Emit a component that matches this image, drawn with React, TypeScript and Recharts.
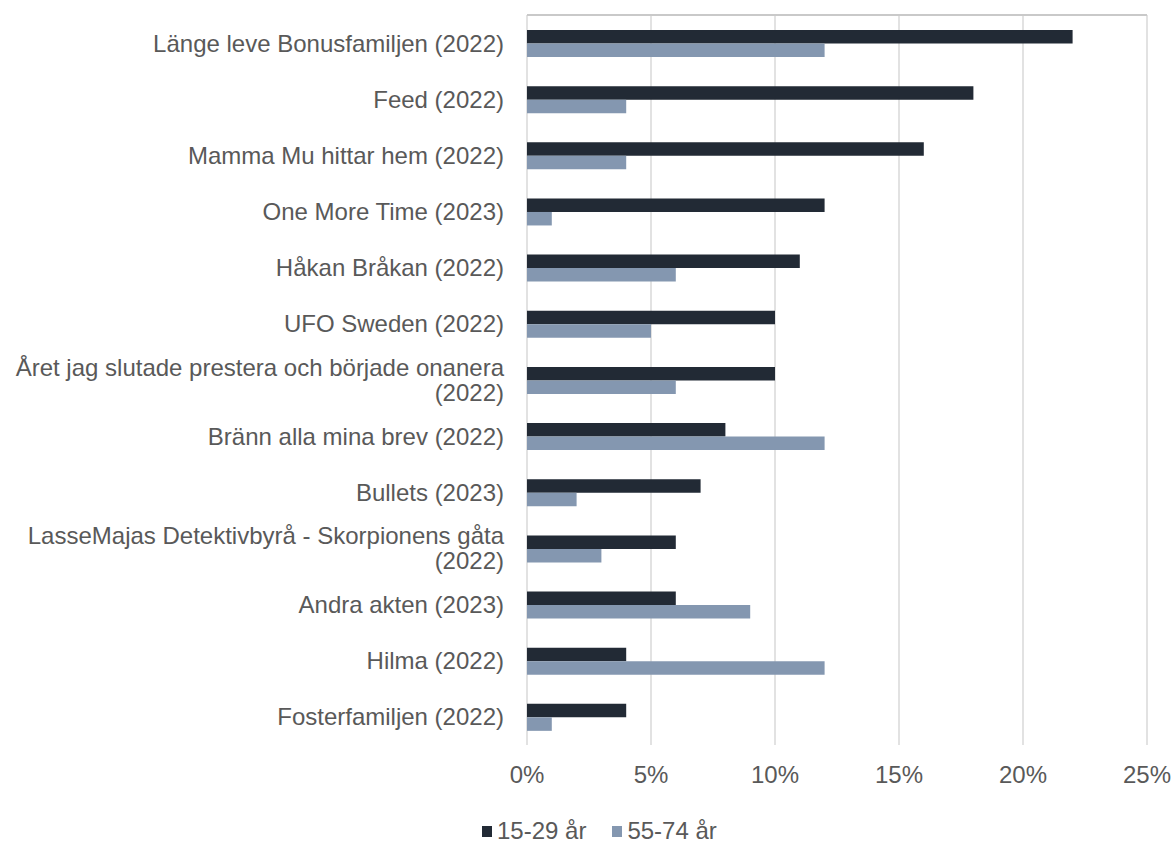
import React from "react";
import { BarChart, Bar, XAxis, YAxis, CartesianGrid, Legend } from "recharts";

const titles = [
  "Länge leve Bonusfamiljen (2022)",
  "Feed (2022)",
  "Mamma Mu hittar hem (2022)",
  "One More Time (2023)",
  "Håkan Bråkan (2022)",
  "UFO Sweden (2022)",
  "Året jag slutade prestera och började onanera (2022)",
  "Bränn alla mina brev (2022)",
  "Bullets (2023)",
  "LasseMajas Detektivbyrå - Skorpionens gåta (2022)",
  "Andra akten (2023)",
  "Hilma (2022)",
  "Fosterfamiljen (2022)",
];
const young = [22, 18, 16, 12, 11, 10, 10, 8, 7, 6, 6, 4, 4];
const old = [12, 4, 4, 1, 6, 5, 6, 12, 2, 3, 9, 12, 1];
const xTicks = [0, 5, 10, 15, 20, 25];

const seriesYoung = "15-29 år";
const seriesOld = "55-74 år";

const data = titles.map((name, i) => ({ name, [seriesYoung]: young[i], [seriesOld]: old[i] }));

const FONT = '"Liberation Sans", Arial, sans-serif';
const TEXT = "#595959";
const FS = 24;

const CategoryTick = (props: any) => {
  const { x, y, payload } = props;
  const label: string = payload.value;
  let lines = [label];
  if (label.length > 40) {
    const cut = label.lastIndexOf(" ");
    lines = [label.slice(0, cut), label.slice(cut + 1)];
  }
  const step = 25;
  const start = y - ((lines.length - 1) * step) / 2;
  return (
    <g>
      {lines.map((ln, i) => (
        <text key={i} x={x} y={start + i * step} dy="0.355em" textAnchor="end"
          fill={TEXT} fontSize={FS} fontFamily={FONT}>
          {ln}
        </text>
      ))}
    </g>
  );
};

const LegendContent = (props: any) => {
  const items = props.payload || [];
  return (
    <div style={{ display: "flex", alignItems: "center", fontFamily: FONT, fontSize: FS, color: TEXT, lineHeight: "30px" }}>
      {items.map((it: any, i: number) => (
        <div key={i} style={{ display: "flex", alignItems: "center", marginRight: i === 0 ? 26 : 0 }}>
          <span style={{ display: "inline-block", width: 10, height: 11, background: it.color, marginRight: 5 }} />
          <span>{it.value}</span>
        </div>
      ))}
    </div>
  );
};

export default function App() {
  return (
    <div style={{ position: "absolute", left: 0, top: 0, background: "#fff" }}>
      <BarChart
        width={1173}
        height={842}
        data={data}
        layout="vertical"
        margin={{ top: 8, right: 26, bottom: 47, left: 0 }}
        barGap={0}
      >
        <CartesianGrid horizontal={false} stroke="#d9d9d9" strokeWidth={1.5} />
        <XAxis
          type="number"
          domain={[0, 25]}
          ticks={xTicks}
          tickFormatter={(v: number) => `${v}%`}
          axisLine={false}
          tickLine={false}
          tickSize={0}
          tickMargin={21}
          height={50}
          tick={{ fill: TEXT, fontSize: FS, fontFamily: FONT }}
        />
        <XAxis
          xAxisId="top"
          orientation="top"
          type="number"
          domain={[0, 25]}
          ticks={xTicks}
          height={7}
          tickSize={7}
          tick={() => <g />}
          axisLine={{ stroke: "#c9c9c9", strokeWidth: 2 }}
          tickLine={{ stroke: "#c0c0c0", strokeWidth: 1.5 }}
        />
        <YAxis
          type="category"
          dataKey="name"
          width={527}
          interval={0}
          axisLine={false}
          tickLine={false}
          tickSize={0}
          tickMargin={23}
          tick={<CategoryTick />}
        />
        <Legend
          layout="horizontal"
          verticalAlign="middle"
          align="center"
          content={<LegendContent />}
          wrapperStyle={{ left: 482, top: 816, width: 400 }}
        />
        <Bar dataKey={seriesYoung} fill="#222a35" barSize={13.5} isAnimationActive={false} />
        <Bar dataKey={seriesOld} fill="#8497b0" barSize={13.5} isAnimationActive={false} />
      </BarChart>
    </div>
  );
}
